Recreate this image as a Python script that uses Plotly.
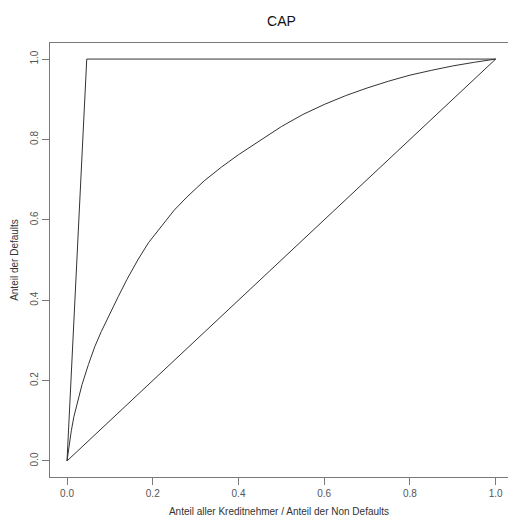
import plotly.graph_objects as go

# Model CAP curve
model_x = [0.0, 0.005, 0.01, 0.016, 0.025, 0.035, 0.05, 0.065, 0.08, 0.10, 0.12,
           0.14, 0.165, 0.19, 0.22, 0.25, 0.28, 0.32, 0.36, 0.40, 0.45, 0.50,
           0.55, 0.60, 0.65, 0.70, 0.75, 0.80, 0.85, 0.90, 0.95, 1.0]
model_y = [0.0, 0.04, 0.075, 0.11, 0.15, 0.19, 0.24, 0.285, 0.322, 0.367, 0.41,
           0.452, 0.50, 0.543, 0.585, 0.624, 0.657, 0.697, 0.731, 0.762, 0.797, 0.832,
           0.862, 0.887, 0.909, 0.928, 0.945, 0.96, 0.972, 0.983, 0.992, 1.0]

# Perfect model
perfect_x = [0.0, 0.046, 1.0]
perfect_y = [0.0, 1.0, 1.0]

# Random model
random_x = [0.0, 1.0]
random_y = [0.0, 1.0]

tick_vals = [0.0, 0.2, 0.4, 0.6, 0.8, 1.0]
tick_text = ["0.0", "0.2", "0.4", "0.6", "0.8", "1.0"]

line_col = "#333333"
axis_col = "#7a7a7a"
font_fam = "Liberation Sans, Arial, sans-serif"

fig = go.Figure()
for xs, ys in [(perfect_x, perfect_y), (model_x, model_y), (random_x, random_y)]:
    fig.add_trace(go.Scatter(x=xs, y=ys, mode="lines",
                             line=dict(color=line_col, width=1),
                             showlegend=False, hoverinfo="skip"))

fig.update_layout(
    width=508, height=518,
    margin=dict(l=50, r=0, t=43, b=41),
    paper_bgcolor="white", plot_bgcolor="white",
    font=dict(family=font_fam, color="#333333", size=10),
    title=dict(text="CAP", x=(50 + 513) / 2 / 508, xanchor="center",
               y=1 - 21 / 518, yanchor="middle", yref="container",
               font=dict(size=14, color="#111111", family=font_fam)),
    xaxis=dict(range=[-0.0397, 1.0287], tickvals=tick_vals, ticktext=tick_text,
               showgrid=False, zeroline=False, showline=True, linecolor=axis_col,
               linewidth=1, mirror=True, ticks="outside", ticklen=7,
               tickcolor=axis_col, tickfont=dict(size=10, color="#555555"),
               title=dict(text="Anteil aller Kreditnehmer / Anteil der Non Defaults",
                          font=dict(size=10, color="#333333"), standoff=9)),
    yaxis=dict(range=[-0.04, 1.04], tickvals=tick_vals, ticktext=tick_text,
               showgrid=False, zeroline=False, showline=True, linecolor=axis_col,
               linewidth=1, mirror=False, ticks="outside", ticklen=7,
               tickcolor=axis_col, tickangle=-90,
               tickfont=dict(size=10, color="#555555"),
               title=dict(text="Anteil der Defaults",
                          font=dict(size=10, color="#333333"), standoff=8)),
)

fig.write_html("out.html")
